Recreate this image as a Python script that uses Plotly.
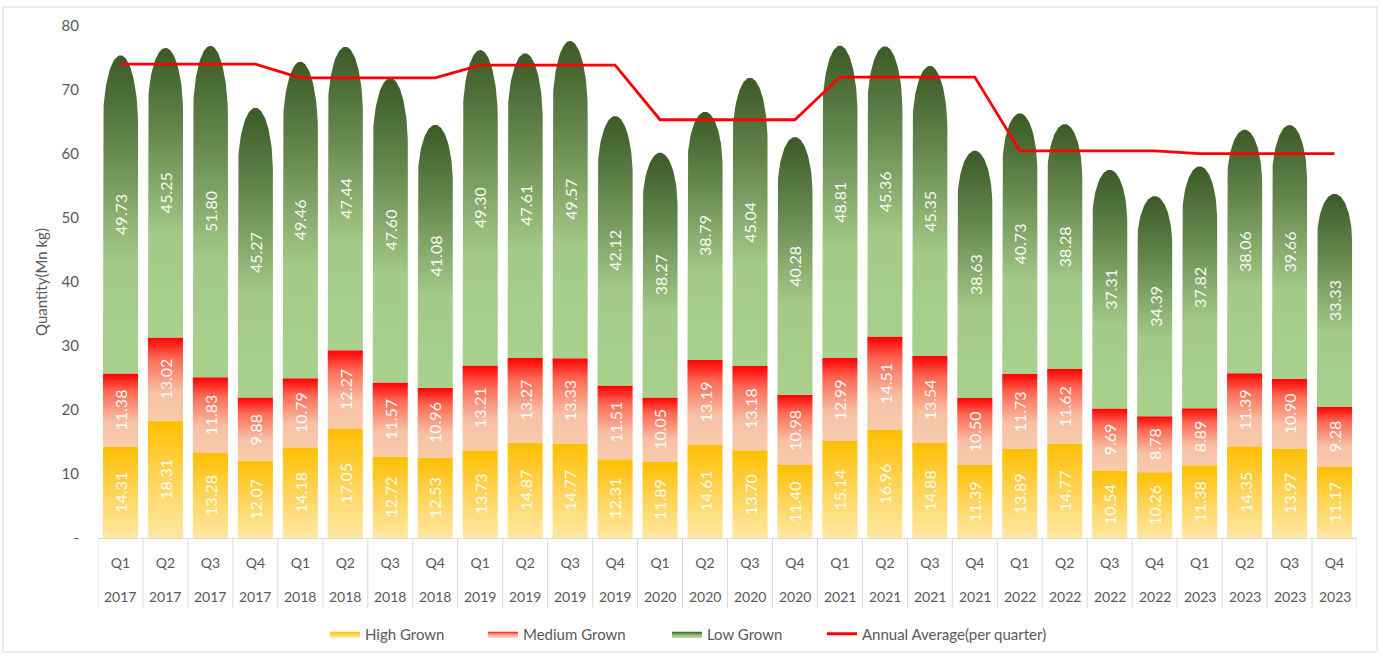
import numpy as np
import plotly.graph_objects as go

quarters = ["Q1", "Q2", "Q3", "Q4"] * 7
years = [str(y) for y in range(2017, 2024) for _ in range(4)]

high = [14.31, 18.31, 13.28, 12.07, 14.18, 17.05, 12.72, 12.53, 13.73, 14.87, 14.77, 12.31,
        11.89, 14.61, 13.70, 11.40, 15.14, 16.96, 14.88, 11.39, 13.89, 14.77, 10.54, 10.26,
        11.38, 14.35, 13.97, 11.17]
medium = [11.38, 13.02, 11.83, 9.88, 10.79, 12.27, 11.57, 10.96, 13.21, 13.27, 13.33, 11.51,
          10.05, 13.19, 13.18, 10.98, 12.99, 14.51, 13.54, 10.50, 11.73, 11.62, 9.69, 8.78,
          8.89, 11.39, 10.90, 9.28]
low = [49.73, 45.25, 51.80, 45.27, 49.46, 47.44, 47.60, 41.08, 49.30, 47.61, 49.57, 42.12,
       38.27, 38.79, 45.04, 40.28, 48.81, 45.36, 45.35, 38.63, 40.73, 38.28, 37.31, 34.39,
       37.82, 38.06, 39.66, 33.33]
annual_avg = [74.03] * 4 + [71.91] * 4 + [73.90] * 4 + [65.35] * 4 + [72.02] * 4 + [60.50] * 4 + [60.05] * 4

y_ticks = [0, 10, 20, 30, 40, 50, 60, 70, 80]
y_ticktext = ["-", "10", "20", "30", "40", "50", "60", "70", "80"]

FONT = "Lato, 'Open Sans', sans-serif"
GREY = "#595959"
BAR_W = 0.78
DOME = 0.22  # fraction of low-grown segment used by the rounded top

cs_high = [[0, "#ffe8a3"], [0.5, "#ffd45a"], [1, "#ffbf00"]]
cs_med = [[0, "#f8cbad"], [0.35, "#f7c0a5"], [0.75, "#fb6a55"], [1, "#ff0000"]]
cs_low = [[0, "#a9d18e"], [0.35, "#a3ca88"], [0.7, "#67894f"], [1, "#3b5a27"]]

fig = go.Figure()
n = len(quarters)
xs = np.arange(n)


def rect(xc, y0, y1):
    h = BAR_W / 2
    return [xc - h, xc - h, xc + h, xc + h, xc - h], [y0, y1, y1, y0, y0]


def dome(xc, y0, y1, dh):
    h = BAR_W / 2
    th = np.linspace(np.pi, 0, 60)
    px = [xc - h] + list(xc + h * np.cos(th)) + [xc + h, xc - h]
    py = [y0] + list(y1 - dh + dh * np.sin(th)) + [y0, y0]
    return px, py


legend_of = {"h": "legend", "m": "legend2", "l": "legend3"}

for i in range(n):
    b0 = 0
    b1 = high[i]
    b2 = high[i] + medium[i]
    b3 = b2 + low[i]
    for name, (px, py), cs, grp in [
        ("High Grown", rect(xs[i], b0, b1), cs_high, "h"),
        ("Medium Grown", rect(xs[i], b1, b2), cs_med, "m"),
        ("Low Grown", dome(xs[i], b2, b3, DOME * low[i]), cs_low, "l"),
    ]:
        fig.add_trace(go.Scatter(
            x=px, y=py, mode="lines", fill="toself",
            line=dict(width=0, color=cs[-1][1]),
            fillgradient=dict(type="vertical", colorscale=cs),
            name=name, legendgroup=grp, showlegend=(i == 0),
            legend=legend_of[grp],
            hoverinfo="skip",
        ))

fig.add_trace(go.Scatter(
    x=xs, y=annual_avg, mode="lines", line=dict(color="#ff0000", width=2.8),
    name="Annual Average(per quarter)", legend="legend4",
))

lab_font = dict(family=FONT, size=16, color="rgba(255,255,255,0.95)")
for i in range(n):
    segs = [(0, high[i]), (high[i], high[i] + medium[i]),
            (high[i] + medium[i], high[i] + medium[i] + low[i])]
    vals = [high[i], medium[i], low[i]]
    for (a, b), v in zip(segs, vals):
        fig.add_annotation(x=xs[i], y=(a + b) / 2, text=f"{v:.2f}", textangle=-90,
                           showarrow=False, font=lab_font, xref="x", yref="y")
    fig.add_annotation(x=xs[i], y=-0.115, yref="paper", xref="x", text=years[i],
                       showarrow=False, font=dict(family=FONT, size=14, color=GREY),
                       yanchor="middle")

shapes = []
for i in range(n + 1):
    shapes.append(dict(type="line", xref="x", yref="paper", x0=i - 0.5, x1=i - 0.5,
                       y0=0, y1=-0.137, line=dict(color="#d9d9d9", width=1)))
shapes.append(dict(type="rect", xref="paper", yref="paper", x0=-0.0755, x1=1.0159,
                   y0=-0.2227, y1=1.037, line=dict(color="#d9d9d9", width=1)))


def leg(x):
    return dict(orientation="h", x=x, xanchor="left", y=-0.1875, yanchor="middle",
                font=dict(family=FONT, size=15, color=GREY), bgcolor="rgba(0,0,0,0)")


fig.update_layout(
    width=1383, height=657, autosize=False,
    margin=dict(l=98, r=26, t=26, b=119, autoexpand=False),
    paper_bgcolor="white", plot_bgcolor="white",
    font=dict(family=FONT, color=GREY),
    shapes=shapes,
    showlegend=True,
    legend=leg(0.1803),
    legend2=leg(0.3058),
    legend3=leg(0.4519),
    legend4=leg(0.5750),
    xaxis=dict(range=[-0.5, n - 0.5], tickmode="array", tickvals=list(xs), ticktext=quarters,
               tickangle=0, automargin=False,
               showgrid=False, zeroline=False, showline=True, linecolor="#d9d9d9",
               ticks="", ticklabelstandoff=12, tickfont=dict(family=FONT, size=14, color=GREY)),
    yaxis=dict(range=[0, 80], tickvals=y_ticks, ticktext=y_ticktext, showgrid=False,
               automargin=False,
               zeroline=False, showline=False, ticks="", ticklabelstandoff=18,
               tickfont=dict(family=FONT, size=15, color=GREY),
               title=dict(text="Quantity(Mn kg)", font=dict(family=FONT, size=15, color=GREY),
                          standoff=10)),
)

fig.write_html("out.html", config={"displayModeBar": False},
               post_script="document.body.style.margin='0px';")
